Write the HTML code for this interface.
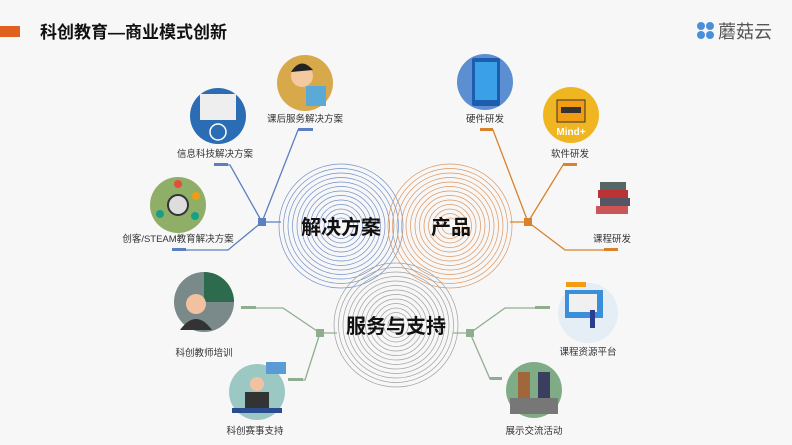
<!DOCTYPE html>
<html><head><meta charset="utf-8"><style>
body{margin:0;background:#f7f7f7;}
svg{display:block}
text{font-family:"Liberation Sans","Noto Sans CJK SC",sans-serif;}
</style></head><body>
<svg width="792" height="445" viewBox="0 0 792 445" xmlns="http://www.w3.org/2000/svg">
<defs>
<g id="rings" fill="none" stroke-width="0.7">
<circle r="62"/><circle r="57.5"/><circle r="53"/><circle r="48.5"/><circle r="44"/><circle r="39.5"/><circle r="35"/><circle r="30.5"/><circle r="26"/><circle r="21.5"/><circle r="17"/><circle r="12.5"/><circle r="8"/>
</g>
</defs>
<rect width="792" height="445" fill="#f7f7f7"/>
<rect x="0" y="26" width="20" height="11" fill="#e0601f"/>
<text x="40" y="38" font-size="17" font-weight="bold" fill="#111">科创教育—商业模式创新</text>
<g fill="#4a90d9"><circle cx="701" cy="26" r="4"/><circle cx="710" cy="26" r="4"/><circle cx="701" cy="35" r="4"/><circle cx="710" cy="35" r="4"/></g>
<text x="718" y="38" font-size="18" fill="#555">蘑菇云</text>

<use href="#rings" x="341" y="226" stroke="#7290c8"/>
<use href="#rings" x="450" y="226" stroke="#dc9660"/>
<use href="#rings" x="396" y="325" stroke="#a0a0a0"/>
<g font-weight="bold" fill="#111" text-anchor="middle">
<text x="341" y="234" font-size="20">解决方案</text>
<text x="451" y="234" font-size="20">产品</text>
<text x="396" y="333" font-size="20">服务与支持</text>
</g>

<g stroke="#5b7fbf" stroke-width="1.3" fill="none">
<polyline points="281,222 262,222 298,130 313,130"/>
<polyline points="262,222 230,165 214,165"/>
<polyline points="262,222 228,250 172,250"/>
</g>
<g fill="#5b7fbf"><rect x="258" y="218" width="8" height="8"/><rect x="298" y="128" width="15" height="3"/><rect x="214" y="163" width="14" height="3"/><rect x="172" y="248" width="14" height="3"/></g>
<g stroke="#d9822b" stroke-width="1.3" fill="none">
<polyline points="510,222 528,222 493,130 480,130"/>
<polyline points="528,222 563,165 577,165"/>
<polyline points="528,222 565,250 618,250"/>
</g>
<g fill="#d9822b"><rect x="524" y="218" width="8" height="8"/><rect x="480" y="128" width="13" height="3"/><rect x="563" y="163" width="14" height="3"/><rect x="604" y="248" width="14" height="3"/></g>
<g stroke="#8fae8f" stroke-width="1.3" fill="none">
<polyline points="337,333 320,333 283,308 241,308"/>
<polyline points="320,333 305,380 288,380"/>
<polyline points="453,333 470,333 505,308 550,308"/>
<polyline points="470,333 490,379 502,379"/>
</g>
<g fill="#8fae8f"><rect x="316" y="329" width="8" height="8"/><rect x="466" y="329" width="8" height="8"/><rect x="241" y="306" width="15" height="3"/><rect x="288" y="378" width="15" height="3"/><rect x="535" y="306" width="15" height="3"/><rect x="490" y="377" width="12" height="3"/></g>

<circle cx="305" cy="83" r="28" fill="#d8a94a"/><circle cx="302" cy="76" r="11" fill="#f4c9a0"/><path d="M291 72 q10 -16 22 -2 z" fill="#222"/><rect x="306" y="86" width="20" height="20" fill="#5aa9d6"/>
<circle cx="218" cy="116" r="28" fill="#2a6db5"/><rect x="200" y="94" width="36" height="26" fill="#eee"/><circle cx="218" cy="132" r="8" fill="none" stroke="#fff" stroke-width="1.5"/>
<circle cx="178" cy="205" r="28" fill="#8fae68"/><circle cx="178" cy="205" r="10" fill="#ddd" stroke="#333" stroke-width="2"/>
<g fill="#e74c3c"><circle cx="178" cy="184" r="4"/><circle cx="196" cy="196" r="4" fill="#f39c12"/><circle cx="160" cy="214" r="4" fill="#16a085"/><circle cx="195" cy="216" r="4" fill="#16a085"/></g>
<circle cx="485" cy="82" r="28" fill="#5b8fd1"/><rect x="472" y="58" width="28" height="48" rx="2" fill="#1e5cae"/><rect x="475" y="62" width="22" height="38" fill="#3aa0e8"/>
<circle cx="571" cy="115" r="28" fill="#f0b622"/><rect x="557" y="100" width="28" height="22" fill="#f39c12" stroke="#333"/><rect x="561" y="107" width="20" height="6" fill="#333"/><text x="571" y="135" font-size="10" font-weight="bold" fill="#fff" text-anchor="middle">Mind+</text>
<g><rect x="598" y="190" width="30" height="8" fill="#b33"/><rect x="600" y="198" width="30" height="8" fill="#556"/><rect x="596" y="206" width="32" height="8" fill="#c55"/><rect x="600" y="182" width="26" height="8" fill="#566"/></g>
<circle cx="204" cy="302" r="30" fill="#7a8a8a"/><path d="M204 272 a30 30 0 0 1 30 30 h-30 z" fill="#2d6b4f"/><circle cx="196" cy="304" r="10" fill="#f2c2a0"/><path d="M180 330 q16 -22 32 0 z" fill="#333"/>
<circle cx="257" cy="392" r="28" fill="#9cc8c4"/><rect x="245" y="392" width="24" height="20" fill="#333"/><circle cx="257" cy="384" r="7" fill="#f2c2a0"/><rect x="266" y="362" width="20" height="12" fill="#5b9bd5"/><rect x="232" y="408" width="50" height="5" fill="#2a4d8f"/>
<circle cx="588" cy="313" r="30" fill="#e6eef5"/><rect x="565" y="290" width="38" height="28" fill="#3a8fd8"/><rect x="569" y="294" width="28" height="18" fill="#f0f0f0"/><rect x="566" y="282" width="20" height="5" fill="#f39c12"/><rect x="590" y="310" width="5" height="18" fill="#2a3d8f"/>
<circle cx="534" cy="390" r="28" fill="#7fab86"/><rect x="510" y="398" width="48" height="16" fill="#777"/><rect x="518" y="372" width="12" height="26" fill="#a0683a"/><rect x="538" y="372" width="12" height="26" fill="#3a3f5f"/>

<g font-size="9.5" fill="#333" text-anchor="middle">
<text x="305" y="122">课后服务解决方案</text>
<text x="215" y="157">信息科技解决方案</text>
<text x="178" y="242">创客/STEAM教育解决方案</text>
<text x="485" y="122">硬件研发</text>
<text x="570" y="157">软件研发</text>
<text x="612" y="242">课程研发</text>
<text x="204" y="356">科创教师培训</text>
<text x="255" y="434">科创赛事支持</text>
<text x="588" y="355">课程资源平台</text>
<text x="534" y="434">展示交流活动</text>
</g>
</svg>
</body></html>
